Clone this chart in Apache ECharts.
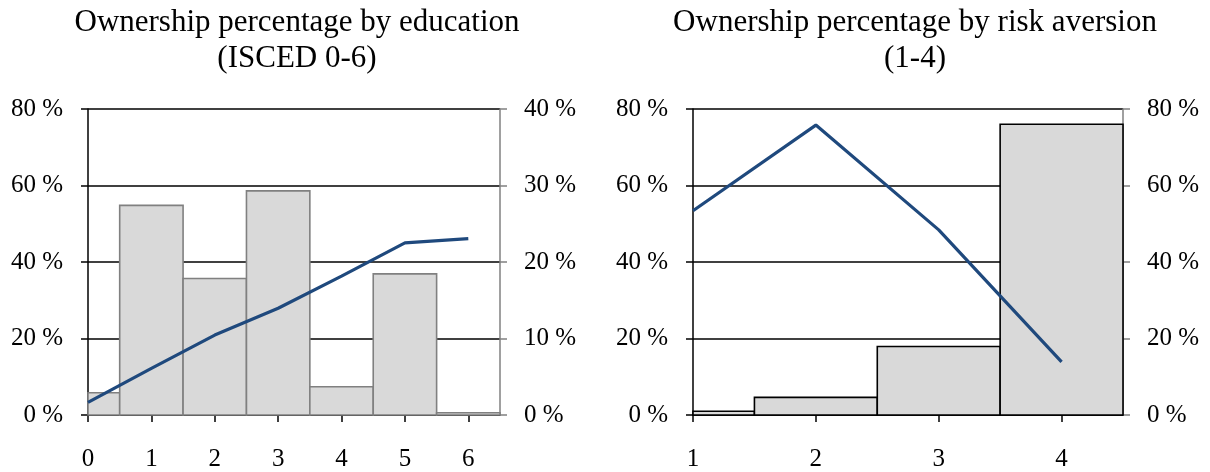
<!DOCTYPE html>
<html>
<head>
<meta charset="utf-8">
<script src="https://cdn.jsdelivr.net/npm/echarts@6/dist/echarts.min.js"></script>
<style>
  html, body { margin: 0; padding: 0; background: #fff; }
  #chart { width: 1210px; height: 472px; }
</style>
</head>
<body>
<div id="chart"></div>
<script>
// Education levels (ISCED 0-6)
const eduLevels = [0, 1, 2, 3, 4, 5, 6];
// Share of respondents in each education level (right axis, %)
const eduShare = [2.9, 27.4, 17.85, 29.3, 3.7, 18.45, 0.3];
// Ownership percentage by education level (left axis, %)
const eduOwnership = [3.3, 12.2, 20.9, 27.9, 36.3, 45.0, 46.1];

// Risk aversion levels (1-4)
const riskLevels = [1, 2, 3, 4];
// Share of respondents in each risk aversion level (right axis, %)
const riskShare = [1.0, 4.6, 17.9, 76.0];
// Ownership percentage by risk aversion level (left axis, %)
const riskOwnership = [53.4, 75.8, 48.4, 13.9];

const SERIF = '"Liberation Serif", "Times New Roman", serif';
const LINE_BLUE = '#1f497d';
const BAR_FILL = '#d9d9d9';
const TICK_FONT = 25;

const pair = (xs, ys) => xs.map((x, i) => [x, ys[i]]);

// Histogram-style bars: each category spans [x - 0.5, x + 0.5], clipped to the plot
function barRenderer(stroke) {
  return function (params, api) {
    const x = api.value(0), v = api.value(1);
    const p0 = api.coord([x - 0.5, v]);
    const p1 = api.coord([x + 0.5, 0]);
    const cs = params.coordSys;
    const shape = echarts.graphic.clipRectByRect(
      { x: p0[0], y: p0[1], width: p1[0] - p0[0], height: p1[1] - p0[1] },
      { x: cs.x, y: cs.y, width: cs.width, height: cs.height }
    );
    if (!shape) return null;
    return {
      type: 'rect',
      shape: shape,
      style: { fill: BAR_FILL, stroke: stroke, lineWidth: 1.6 }
    };
  };
}

function xAxisFor(gridIndex, min, max, ticks) {
  return {
    type: 'value', gridIndex, min, max, interval: 1,
    axisLine: { show: true, onZero: false, lineStyle: { color: '#000', width: 1.5 } },
    axisTick: { show: true, length: 7, inside: false, customValues: ticks, lineStyle: { color: '#000', width: 1.5 } },
    axisLabel: { customValues: ticks, margin: 32, color: '#000', fontFamily: SERIF, fontSize: TICK_FONT },
    splitLine: { show: false }
  };
}

function leftY(gridIndex, max, interval) {
  return {
    type: 'value', gridIndex, min: 0, max, interval, position: 'left',
    axisLine: { show: true, lineStyle: { color: '#000', width: 1.5 } },
    axisTick: { show: true, length: 7, lineStyle: { color: '#000', width: 1.5 } },
    axisLabel: { formatter: '{value} %', margin: 25, color: '#000', fontFamily: SERIF, fontSize: TICK_FONT },
    splitLine: { show: true, lineStyle: { color: '#000', width: 1.5 } }
  };
}

function rightY(gridIndex, max, interval) {
  return {
    type: 'value', gridIndex, min: 0, max, interval, position: 'right',
    axisLine: { show: true, lineStyle: { color: '#808080', width: 1.5 } },
    axisTick: { show: true, length: 7, lineStyle: { color: '#808080', width: 1.5 } },
    axisLabel: { formatter: '{value} %', margin: 24, color: '#000', fontFamily: SERIF, fontSize: TICK_FONT },
    splitLine: { show: false }
  };
}

const titleStyle = { fontFamily: SERIF, fontSize: 31, fontWeight: 'normal', color: '#000', lineHeight: 36 };

const chart = echarts.init(document.getElementById('chart'), null, { renderer: 'canvas' });
chart.setOption({
  animation: false,
  backgroundColor: '#fff',
  title: [
    { text: 'Ownership percentage by education\n(ISCED 0-6)', left: 292, top: 0, textAlign: 'center', textStyle: titleStyle },
    { text: 'Ownership percentage by risk aversion\n(1-4)', left: 910, top: 0, textAlign: 'center', textStyle: titleStyle }
  ],
  grid: [
    { left: 88, top: 109, width: 412, height: 306, containLabel: false },
    { left: 693, top: 109, width: 430, height: 306, containLabel: false }
  ],
  xAxis: [
    xAxisFor(0, 0, 6.5, eduLevels),
    xAxisFor(1, 1, 4.5, riskLevels)
  ],
  yAxis: [
    leftY(0, 80, 20),
    rightY(0, 40, 10),
    leftY(1, 80, 20),
    rightY(1, 80, 20)
  ],
  series: [
    {
      type: 'custom', name: 'Share by education', xAxisIndex: 0, yAxisIndex: 1,
      renderItem: barRenderer('#808080'), data: pair(eduLevels, eduShare), z: 2
    },
    {
      type: 'line', name: 'Ownership by education', xAxisIndex: 0, yAxisIndex: 0,
      data: pair(eduLevels, eduOwnership), showSymbol: false,
      lineStyle: { color: LINE_BLUE, width: 3.2 }, z: 5
    },
    {
      type: 'custom', name: 'Share by risk aversion', xAxisIndex: 1, yAxisIndex: 3,
      renderItem: barRenderer('#000'), data: pair(riskLevels, riskShare), z: 2
    },
    {
      type: 'line', name: 'Ownership by risk aversion', xAxisIndex: 1, yAxisIndex: 2,
      data: pair(riskLevels, riskOwnership), showSymbol: false,
      lineStyle: { color: LINE_BLUE, width: 3.2 }, z: 5
    }
  ]
});
</script>
</body>
</html>
